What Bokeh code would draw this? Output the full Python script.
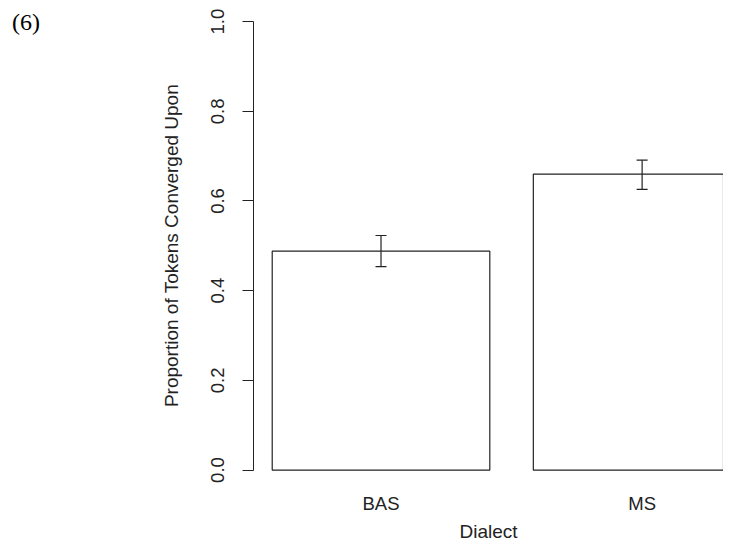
from bokeh.plotting import figure
from bokeh.models import Range1d, FixedTicker, Whisker, ColumnDataSource, TeeHead, NumeralTickFormatter, Div
from bokeh.layouts import row
from bokeh.embed import file_html
from bokeh.resources import INLINE

# ---- data ----
categories = ["BAS", "MS"]
means = [0.488, 0.660]
lower = [0.4535, 0.626]
upper = [0.523, 0.691]
y_ticks = [0.0, 0.2, 0.4, 0.6, 0.8, 1.0]
y_title = "Proportion of Tokens Converged Upon"
x_title = "Dialect"
panel_tag = "(6)"

# R barplot layout: width 1, space 0.2
centers = [0.2 + 0.5 + 1.2 * i for i in range(len(categories))]

src = ColumnDataSource(dict(x=centers, top=means, lower=lower, upper=upper))

TAG_W = 60
W, H = 723 - TAG_W, 544
p = figure(width=W, height=H, output_backend="svg", toolbar_location=None,
           x_range=Range1d(0.114, 2.274), y_range=Range1d(-0.0456, 1.0471),
           min_border_left=253 - TAG_W, min_border_right=0, min_border_top=0, min_border_bottom=54,
           margin=(0, 0, 0, 0))
p.outline_line_color = None
p.xgrid.visible = False
p.ygrid.visible = False
p.background_fill_color = "white"
p.border_fill_color = "white"

p.vbar(x="x", top="top", bottom=0, width=1.0, source=src,
       fill_color="white", line_color="#222222", line_width=1.2)

w = Whisker(base="x", lower="lower", upper="upper", source=src, level="overlay",
            line_color="#222222", line_width=1.2,
            upper_head=TeeHead(size=11, line_color="#222222", line_width=1.2),
            lower_head=TeeHead(size=11, line_color="#222222", line_width=1.2))
p.add_layout(w)

# y axis (R style)
ya = p.yaxis[0]
ya.ticker = FixedTicker(ticks=y_ticks)
ya.formatter = NumeralTickFormatter(format="0.0")
ya.bounds = (0, 1)
ya.major_tick_out = 11
ya.major_tick_in = 0
ya.minor_tick_line_color = None
ya.axis_line_color = "#222222"
ya.major_tick_line_color = "#222222"
ya.major_label_orientation = "vertical"
ya.major_label_text_font = "Liberation Sans"
ya.major_label_text_font_size = "18.5px"
ya.major_label_text_color = "#222222"
ya.major_label_standoff = 18
ya.axis_label = y_title
ya.axis_label_text_font = "Liberation Sans"
ya.axis_label_text_font_size = "19px"
ya.axis_label_text_font_style = "normal"
ya.axis_label_text_color = "#222222"
ya.axis_label_standoff = 27

# x axis: category names only
xa = p.xaxis[0]
xa.ticker = FixedTicker(ticks=centers)
xa.major_label_overrides = {c: n for c, n in zip(centers, categories)}
xa.axis_line_color = None
xa.major_tick_line_color = None
xa.major_tick_out = 0
xa.major_tick_in = 0
xa.minor_tick_line_color = None
xa.major_label_text_font = "Liberation Sans"
xa.major_label_text_font_size = "18.5px"
xa.major_label_text_color = "#222222"
xa.major_label_standoff = 2
xa.axis_label = x_title
xa.axis_label_text_font = "Liberation Sans"
xa.axis_label_text_font_size = "19px"
xa.axis_label_text_font_style = "normal"
xa.axis_label_text_color = "#222222"
xa.axis_label_standoff = 4

tag = Div(text=panel_tag, width=TAG_W, height=H, margin=(0, 0, 0, 0),
          styles={"font-family": "'Liberation Serif', serif", "font-size": "24px",
                  "color": "black", "padding-top": "5px", "padding-left": "12px",
                  "box-sizing": "border-box", "background": "white"})

layout = row(tag, p, margin=(0, 0, 0, 0))

open("out.html", "w").write(file_html(layout, INLINE))
